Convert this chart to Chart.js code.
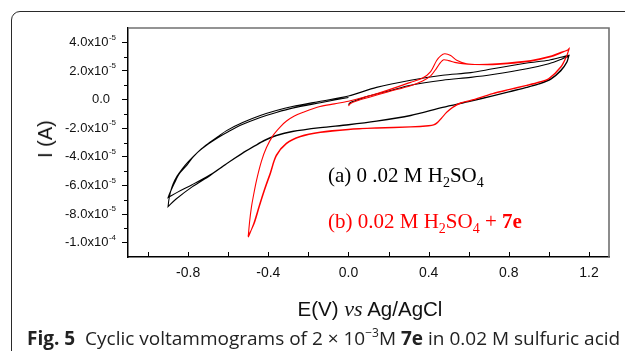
<!DOCTYPE html>
<html>
<head>
<meta charset="utf-8">
<script src="https://cdn.jsdelivr.net/npm/chart.js@4.4.0/dist/chart.umd.min.js"></script>
<style>
body { margin: 0; background: #fff; width: 625px; height: 351px; overflow: hidden; position: relative; }
#tarjeta { position: absolute; left: 11px; top: 11px; width: 700px; height: 400px; border: 1px solid #2a2a2a; border-radius: 9px; }
#grafico { position: absolute; left: 0; top: 0; }
.txt { position: absolute; white-space: nowrap; }
.ann { font-family: "Liberation Serif", "Times New Roman", serif; font-size: 21px; line-height: 21px; left: 328px; }
.sub { font-size: 14px; vertical-align: -5px; }
#ytitulo { font-family: "Liberation Sans", Arial, sans-serif; font-size: 20px; line-height: 20px; left: 45px; top: 139px; transform: translate(-50%, -50%) rotate(-90deg); color: #111; }
#xtitulo { font-family: "Liberation Sans", Arial, sans-serif; font-size: 20.5px; line-height: 20px; top: 299px; left: 370px; transform: translateX(-50%); color: #111; }
#xtitulo i { font-family: "Liberation Serif", serif; font-size: 22px; }
#pie { font-family: "Open Sans", sans-serif; font-size: 19px; line-height: 19px; left: 27px; top: 329px; color: #222; }
#pie sup { font-size: 12px; vertical-align: 8px; line-height: 0; }
</style>
</head>
<body>
<div id="tarjeta"></div>
<canvas id="grafico" width="625" height="351"></canvas>
<div class="txt ann" style="top:165px;color:#000">(a) 0 .02 M H<span class="sub">2</span>SO<span class="sub">4</span></div>
<div class="txt ann" style="top:211px;color:#ff0000">(b) 0.02 M H<span class="sub">2</span>SO<span class="sub">4</span> + <b>7e</b></div>
<div class="txt" id="ytitulo">I (A)</div>
<div class="txt" id="xtitulo">E(V) <i>vs</i> Ag/AgCl</div>
<div class="txt" id="pie"><b>Fig. 5</b>&nbsp; Cyclic voltammograms of 2 × 10<sup>−3</sup>M <b>7e</b> in 0.02 M sulfuric acid</div>
<script>
// Potencial E (V vs Ag/AgCl) y corriente I (en unidades de 1e-5 A)

// (a) 0.02 M H2SO4 - curva negra, dos ciclos
const negraSube1E = [0.0, 0.01, 0.04, 0.1, 0.2, 0.31, 0.47, 0.61, 0.72, 0.89, 1.0, 1.06, 1.10];
const negraSube1I = [-0.35, -0.2, -0.05, 0.25, 0.6, 1.0, 1.35, 1.55, 1.75, 2.15, 2.5, 2.8, 3.05];
const negraBaja1E = [1.10, 1.09, 1.06, 1.01, 0.95, 0.89, 0.80, 0.72, 0.61, 0.47, 0.31, 0.14, 0.0, -0.14, -0.28, -0.36, -0.42, -0.47, -0.53, -0.61, -0.69, -0.78, -0.85, -0.90];
const negraBaja1I = [3.05, 2.6, 2.0, 1.42, 1.08, 0.84, 0.53, 0.25, -0.12, -0.56, -1.12, -1.52, -1.77, -1.97, -2.24, -2.52, -2.87, -3.27, -3.77, -4.5, -5.25, -5.95, -6.45, -6.85];
const negraSube2E = [-0.90, -0.89, -0.867, -0.843, -0.807, -0.778, -0.733, -0.693, -0.65, -0.608, -0.528, -0.44, -0.36, -0.28, -0.14, 0.0, 0.14, 0.31, 0.47, 0.61, 0.72, 0.89, 1.0, 1.06, 1.10];
const negraSube2I = [-6.85, -6.5, -5.8, -5.17, -4.6, -4.06, -3.43, -3.0, -2.57, -2.17, -1.61, -1.12, -0.77, -0.49, -0.12, 0.25, 0.85, 1.35, 1.7, 1.88, 2.15, 2.55, 2.75, 2.95, 3.1];
const negraBaja2E = [1.10, 1.09, 1.06, 1.01, 0.95, 0.89, 0.80, 0.72, 0.61, 0.47, 0.31, 0.14, 0.0, -0.14, -0.28, -0.36, -0.42, -0.47, -0.53, -0.61, -0.69, -0.78, -0.86, -0.90];
const negraBaja2I = [3.1, 2.65, 2.05, 1.45, 1.1, 0.86, 0.55, 0.27, -0.1, -0.54, -1.1, -1.5, -1.75, -1.95, -2.22, -2.5, -2.85, -3.25, -3.75, -4.5, -5.3, -6.1, -6.95, -7.48];
const negraSube3E = [-0.90, -0.896, -0.888, -0.875, -0.855, -0.83, -0.80, -0.75, -0.70, -0.65, -0.60, -0.53, -0.44, -0.36, -0.28, -0.14, 0.0];
const negraSube3I = [-7.48, -7.0, -6.45, -5.9, -5.35, -4.85, -4.35, -3.65, -3.1, -2.65, -2.25, -1.75, -1.25, -0.9, -0.6, -0.22, 0.15];

// (b) 0.02 M H2SO4 + 7e - curva roja, dos ciclos
const rojaSube1E = [0.0, 0.01, 0.04, 0.1, 0.2, 0.31, 0.37, 0.41, 0.44, 0.46, 0.475, 0.50, 0.53, 0.57, 0.62, 0.74, 0.91, 1.0, 1.06, 1.10];
const rojaSube1I = [-0.45, -0.28, -0.1, 0.15, 0.55, 0.97, 1.3, 1.65, 2.2, 2.6, 2.78, 2.72, 2.6, 2.5, 2.45, 2.45, 2.68, 2.95, 3.25, 3.5];
const rojaBaja1E = [1.10, 1.09, 1.06, 1.0, 0.95, 0.89, 0.80, 0.72, 0.61, 0.56, 0.52, 0.49, 0.465, 0.445, 0.425, 0.40, 0.31, 0.14, 0.0, -0.14, -0.24, -0.31, -0.36, -0.39, -0.42, -0.445, -0.47, -0.49, -0.50];
const rojaBaja1I = [3.5, 3.08, 2.26, 1.45, 1.2, 0.98, 0.68, 0.40, -0.07, -0.25, -0.55, -0.9, -1.3, -1.6, -1.78, -1.84, -1.92, -2.0, -2.1, -2.3, -2.6, -3.1, -3.95, -5.2, -6.4, -7.5, -8.65, -9.25, -9.5];
const rojaSube2E = [-0.50, -0.493, -0.484, -0.476, -0.459, -0.434, -0.409, -0.376, -0.34, -0.309, -0.27, -0.226, -0.142, -0.07, 0.0, 0.14, 0.31, 0.37, 0.41, 0.44, 0.46, 0.48, 0.51, 0.54, 0.59, 0.65, 0.74, 0.91, 1.0, 1.06, 1.09, 1.10];
const rojaSube2I = [-9.55, -8.5, -7.5, -6.86, -5.66, -4.3, -3.35, -2.5, -1.9, -1.5, -1.15, -0.89, -0.49, -0.3, -0.12, 0.4, 1.2, 1.5, 1.95, 2.73, 3.05, 3.2, 3.08, 2.75, 2.5, 2.45, 2.5, 2.73, 3.0, 3.3, 3.43, 3.55];
const rojaBaja2E = [1.10, 1.09, 1.06, 1.0, 0.95, 0.89, 0.80, 0.72, 0.61, 0.56, 0.52, 0.49, 0.465, 0.445, 0.425, 0.40, 0.31, 0.14, 0.0, -0.14, -0.24, -0.31, -0.36, -0.39, -0.42, -0.445, -0.47, -0.49, -0.50];
const rojaBaja2I = [3.55, 3.1, 2.3, 1.48, 1.22, 1.0, 0.7, 0.42, -0.05, -0.23, -0.53, -0.88, -1.28, -1.58, -1.76, -1.82, -1.9, -1.98, -2.08, -2.27, -2.56, -3.05, -3.88, -5.1, -6.3, -7.4, -8.55, -9.3, -9.62];

// Marcas de los ejes
const xMarcas = [-1.0, -0.8, -0.6, -0.4, -0.2, 0.0, 0.2, 0.4, 0.6, 0.8, 1.0, 1.2];
const xEtiquetas = [-0.8, -0.4, 0.0, 0.4, 0.8, 1.2];
const yValores = [4, 2, 0, -2, -4, -6, -8, -10];
const yMenores = [3, 1, -1, -3, -5, -7, -9];
const yMantisa = ['4.0x10', '2.0x10', '0.0', '-2.0x10', '-4.0x10', '-6.0x10', '-8.0x10', '-1.0x10'];
const yExponente = ['-5', '-5', '', '-5', '-5', '-5', '-5', '-4'];

function puntos(E, I) {
    return E.map((e, i) => ({ x: e, y: I[i] }));
}

const curvaA = [].concat(
    puntos(negraSube1E, negraSube1I), puntos(negraBaja1E, negraBaja1I),
    puntos(negraSube2E, negraSube2I), puntos(negraBaja2E, negraBaja2I),
    puntos(negraSube3E, negraSube3I));
const curvaB = [].concat(
    puntos(rojaSube1E, rojaSube1I), puntos(rojaBaja1E, rojaBaja1I),
    puntos(rojaSube2E, rojaSube2I), puntos(rojaBaja2E, rojaBaja2I));

// Marco gris arriba/derecha, marcas hacia dentro en X, marcas menores y etiquetas del eje Y
const marco = {
    id: 'marco',
    afterDraw(chart) {
        const ctx = chart.ctx;
        const a = chart.chartArea;
        const xs = chart.scales.x;
        const ys = chart.scales.y;
        ctx.save();
        ctx.strokeStyle = '#707070';
        ctx.lineWidth = 1.6;
        ctx.beginPath();
        ctx.moveTo(a.left, a.top);
        ctx.lineTo(a.right, a.top);
        ctx.lineTo(a.right, a.bottom);
        ctx.stroke();

        ctx.strokeStyle = '#000';
        ctx.lineWidth = 1;
        xMarcas.forEach(v => {
            const px = Math.round(xs.getPixelForValue(v)) + 0.5;
            ctx.beginPath();
            ctx.moveTo(px, a.bottom);
            ctx.lineTo(px, a.bottom - 5);
            ctx.stroke();
        });
        yMenores.forEach(v => {
            const py = Math.round(ys.getPixelForValue(v)) + 0.5;
            ctx.beginPath();
            ctx.moveTo(a.left - 4, py);
            ctx.lineTo(a.left, py);
            ctx.stroke();
        });

        ctx.fillStyle = '#111';
        ctx.textBaseline = 'middle';
        ctx.textAlign = 'right';
        yValores.forEach((v, i) => {
            const py = ys.getPixelForValue(v);
            let xr = 116;
            if (yExponente[i]) {
                ctx.font = '8px "Liberation Sans", Arial, sans-serif';
                ctx.fillText(yExponente[i], xr, py - 5);
                xr -= ctx.measureText(yExponente[i]).width + 0.5;
            } else {
                xr = 110;
            }
            ctx.font = '13px "Liberation Sans", Arial, sans-serif';
            ctx.fillText(yMantisa[i], xr, py);
        });
        ctx.restore();
    }
};

new Chart(document.getElementById('grafico'), {
    type: 'scatter',
    data: {
        datasets: [
            { data: curvaB, showLine: true, borderColor: '#ff0000', borderWidth: 1.1, pointRadius: 0, tension: 0.3 },
            { data: curvaA, showLine: true, borderColor: '#000000', borderWidth: 1.1, pointRadius: 0, tension: 0.3 }
        ]
    },
    options: {
        responsive: false,
        animation: false,
        layout: { padding: { left: 0, right: 16, top: 28, bottom: 64 } },
        plugins: { legend: { display: false }, tooltip: { enabled: false } },
        scales: {
            x: {
                type: 'linear', min: -1.1, max: 1.3,
                afterFit: s => { s.height = 30; },
                afterBuildTicks: s => { s.ticks = xMarcas.map(v => ({ value: v })); },
                border: { color: '#000', width: 1.5 },
                grid: { drawOnChartArea: false, drawTicks: false },
                ticks: {
                    autoSkip: false, maxRotation: 0, padding: 8,
                    color: '#111', font: { family: '"Liberation Sans", Arial, sans-serif', size: 14 },
                    callback: v => {
                        const k = xEtiquetas.findIndex(e => Math.abs(e - v) < 1e-6);
                        return k >= 0 ? xEtiquetas[k].toFixed(1) : '';
                    }
                }
            },
            y: {
                type: 'linear', min: -11, max: 5,
                afterFit: s => { s.width = 128; },
                afterBuildTicks: s => { s.ticks = yValores.map(v => ({ value: v })); },
                border: { color: '#000', width: 1.5 },
                grid: { drawOnChartArea: false, tickLength: 6, color: '#000' },
                ticks: { callback: () => '' }
            }
        }
    },
    plugins: [marco]
});
</script>
</body>
</html>
